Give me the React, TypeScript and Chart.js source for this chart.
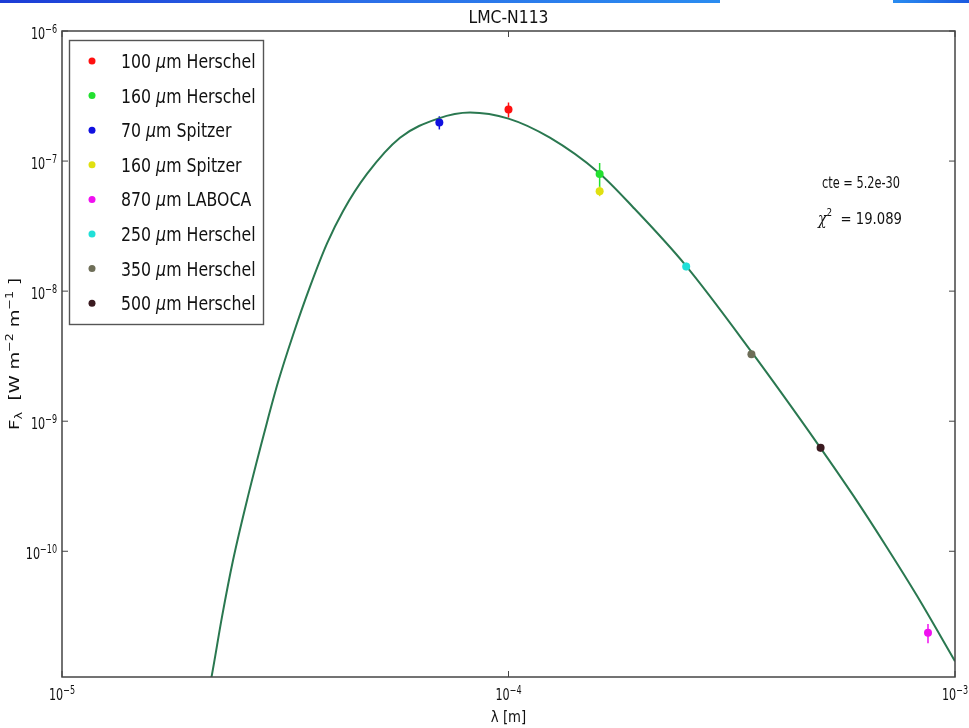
import React, { useEffect, useRef } from 'react';
import { Chart, registerables } from 'chart.js';

Chart.register(...registerables);

// ---------- data ----------
const chartTitle = 'LMC-N113';
const xAxisTitle = 'λ [m]';
const xTickExponents = [-5, -4, -3];
const yTickExponents = [-6, -7, -8, -9, -10];

const seriesLabels = [
  '100 μm Herschel',
  '160 μm Herschel',
  '70 μm Spitzer',
  '160 μm Spitzer',
  '870 μm LABOCA',
  '250 μm Herschel',
  '350 μm Herschel',
  '500 μm Herschel',
];
const seriesWavelength = [1.0e-4, 1.6e-4, 7.0e-5, 1.6e-4, 8.7e-4, 2.5e-4, 3.5e-4, 5.0e-4];
const seriesFlux = [2.49e-7, 7.96e-8, 1.98e-7, 5.87e-8, 2.36e-11, 1.55e-8, 3.27e-9, 6.25e-10];
const seriesError = [3.3e-8, 1.7e-8, 2.3e-8, 5.0e-9, 4.0e-12, 1.0e-9, 2.0e-10, 4.0e-11];
const seriesColors = ['#ff1010', '#22e030', '#1010e0', '#e0e010', '#f010f0', '#20e0d8', '#6e6e58', '#3a1a20'];

const fitLambda = [
  2.09e-5, 2.157e-5, 2.282e-5, 2.415e-5, 2.61e-5, 2.877e-5, 3.046e-5, 3.292e-5, 3.593e-5,
  3.923e-5, 4.259e-5, 4.82e-5, 5.715e-5, 6.953e-5, 8.2e-5, 1.0e-4, 1.238e-4, 1.595e-4,
  1.901e-4, 2.485e-4, 3.492e-4, 4.96e-4, 5.91e-4, 7.04e-4, 8.22e-4, 1.0e-3,
];
const fitFlux = [
  6.29e-12, 1.036e-11, 3.13e-11, 8.49e-11, 2.655e-10, 9.75e-10, 1.99e-9, 4.6e-9, 1.082e-8,
  2.328e-8, 4.12e-8, 7.96e-8, 1.512e-7, 2.121e-7, 2.36e-7, 2.12e-7, 1.512e-7, 8.1e-8,
  4.42e-8, 1.6e-8, 3.457e-9, 6.47e-10, 2.7e-10, 1.07e-10, 4.55e-11, 1.43e-11,
];
const fitConstant = '5.2e-30';
const chiSquare = '19.089';

// ---------- drawing helpers ----------
const FONT = '"DejaVu Sans", sans-serif';
type Seg = { t: string; size: number; dy?: number; italic?: boolean; family?: string };
const segFont = (s: Seg) => `${s.italic ? 'italic ' : ''}${s.size}px ${s.family || FONT}`;
function richWidth(ctx: CanvasRenderingContext2D, segs: Seg[]) {
  let w = 0;
  for (const s of segs) {
    ctx.font = segFont(s);
    w += ctx.measureText(s.t).width;
  }
  return w;
}
function drawRich(
  ctx: CanvasRenderingContext2D,
  segs: Seg[],
  x: number,
  y: number,
  align: 'left' | 'center' | 'right',
  opts: { sx?: number; width?: number; rotate?: number; sy?: number; color?: string } = {}
) {
  const w = richWidth(ctx, segs);
  const sx = opts.width ? opts.width / w : opts.sx ?? 1;
  ctx.save();
  ctx.translate(x, y);
  if (opts.rotate) ctx.rotate(opts.rotate);
  ctx.scale(sx, opts.sy ?? 1);
  ctx.fillStyle = opts.color || '#111';
  ctx.textAlign = 'left';
  ctx.textBaseline = 'alphabetic';
  let cx = align === 'left' ? 0 : align === 'center' ? -w / 2 : -w;
  for (const s of segs) {
    ctx.font = segFont(s);
    ctx.fillText(s.t, cx, s.dy || 0);
    cx += ctx.measureText(s.t).width;
  }
  ctx.restore();
}
const powerLabel = (exp: number): Seg[] => [
  { t: '10', size: 16 },
  { t: '−' + Math.abs(exp), size: 11.5, dy: -6 },
];
const labelSegs = (label: string, size: number): Seg[] => {
  const i = label.indexOf('μ');
  if (i < 0) return [{ t: label, size }];
  return [
    { t: label.slice(0, i), size },
    { t: 'μ', size, italic: true },
    { t: label.slice(i + 1), size },
  ];
};

const decorPlugin = {
  id: 'decor',
  beforeDatasetsDraw(chart: any) {
    const ctx: CanvasRenderingContext2D = chart.ctx;
    const xs = chart.scales.x;
    const ys = chart.scales.y;
    ctx.save();
    ctx.lineWidth = 1.5;
    chart.data.datasets.forEach((ds: any) => {
      if (ds.errorBars == null) return;
      const err = ds.errorBars;
      const p = ds.data[0];
      const px = xs.getPixelForValue(p.x);
      ctx.strokeStyle = ds.backgroundColor;
      ctx.beginPath();
      ctx.moveTo(px, ys.getPixelForValue(p.y + err));
      ctx.lineTo(px, ys.getPixelForValue(Math.max(p.y - err, 1e-20)));
      ctx.stroke();
    });
    ctx.restore();
  },
  afterDatasetsDraw(chart: any) {
    const ctx: CanvasRenderingContext2D = chart.ctx;
    const a = chart.chartArea;
    const xs = chart.scales.x;
    const ys = chart.scales.y;
    ctx.save();

    // frame
    ctx.strokeStyle = '#444';
    ctx.lineWidth = 1.5;
    ctx.strokeRect(a.left, a.top, a.right - a.left, a.bottom - a.top);

    // ticks + labels
    ctx.lineWidth = 1;
    ctx.strokeStyle = '#444';
    xTickExponents.forEach((e) => {
      const px = xs.getPixelForValue(Math.pow(10, e));
      ctx.beginPath();
      ctx.moveTo(px, a.bottom);
      ctx.lineTo(px, a.bottom - 6);
      ctx.moveTo(px, a.top);
      ctx.lineTo(px, a.top + 6);
      ctx.stroke();
      drawRich(ctx, powerLabel(e), px, a.bottom + 23, 'center', { sx: 0.7 });
    });
    yTickExponents.forEach((e) => {
      const py = ys.getPixelForValue(Math.pow(10, e));
      ctx.beginPath();
      ctx.moveTo(a.left, py);
      ctx.lineTo(a.left + 6, py);
      ctx.moveTo(a.right, py);
      ctx.lineTo(a.right - 6, py);
      ctx.stroke();
      drawRich(ctx, powerLabel(e), a.left - 5, py + 8, 'right', { sx: 0.7 });
    });

    // title
    drawRich(ctx, [{ t: chartTitle, size: 18 }], (a.left + a.right) / 2, 23, 'center', { width: 80 });

    // x axis title
    drawRich(ctx, [{ t: xAxisTitle, size: 16 }], (a.left + a.right) / 2, 722, 'center', { sx: 0.83 });

    // y axis title (rotated)
    const ySegs: Seg[] = [
      { t: 'F', size: 18 },
      { t: 'λ', size: 12.6, dy: 4 },
      { t: '  [W m', size: 18 },
      { t: '−2', size: 12.6, dy: -7 },
      { t: ' m', size: 18 },
      { t: '−1', size: 12.6, dy: -7 },
      { t: ' ]', size: 18 },
    ];
    drawRich(ctx, ySegs, 19, (a.top + a.bottom) / 2, 'center', {
      width: 152,
      rotate: -Math.PI / 2,
      sy: 0.83,
    });

    // legend
    const lx = a.left + 7.5;
    const ly = a.top + 9.5;
    ctx.fillStyle = '#fff';
    ctx.fillRect(lx, ly, 194, 284);
    ctx.strokeStyle = '#555';
    ctx.lineWidth = 1.4;
    ctx.strokeRect(lx, ly, 194, 284);
    let row = 0;
    chart.data.datasets.forEach((ds: any) => {
      if (ds.errorBars == null) return;
      const ry = ly + 20.5 + row * 34.6;
      row += 1;
      ctx.fillStyle = ds.backgroundColor;
      ctx.beginPath();
      ctx.arc(lx + 22.5, ry, 3.5, 0, Math.PI * 2);
      ctx.fill();
      drawRich(ctx, labelSegs(ds.label, 19), lx + 51.5, ry + 7, 'left', { sx: 0.83 });
    });

    // annotations
    drawRich(ctx, [{ t: 'cte = ' + fitConstant, size: 15 }], 822, 188, 'left', { width: 78 });
    drawRich(
      ctx,
      [
        { t: 'χ', size: 16, italic: true, family: '"DejaVu Serif", serif' },
        { t: '2', size: 10, dy: -8 },
        { t: '  = ' + chiSquare, size: 15 },
      ],
      818,
      224,
      'left',
      { width: 84 }
    );
    ctx.restore();
  },
};

export default function App() {
  const ref = useRef<HTMLCanvasElement | null>(null);
  useEffect(() => {
    if (!ref.current) return;
    const pointSets = seriesLabels.map((label, i) => ({
      label,
      data: [{ x: seriesWavelength[i], y: seriesFlux[i] }],
      backgroundColor: seriesColors[i],
      borderColor: seriesColors[i],
      pointRadius: 4,
      pointBorderWidth: 0,
      showLine: false,
      errorBars: seriesError[i],
      order: 0,
    }));
    const fitSet = {
      label: 'fit',
      data: fitLambda.map((x, i) => ({ x, y: fitFlux[i] })),
      borderColor: '#2a7850',
      backgroundColor: '#2a7850',
      borderWidth: 2,
      pointRadius: 0,
      showLine: true,
      cubicInterpolationMode: 'monotone',
      order: 1,
    };
    const chart = new Chart(ref.current, {
      type: 'scatter',
      data: { datasets: [fitSet as any, ...(pointSets as any[])] },
      options: {
        animation: false,
        responsive: false,
        devicePixelRatio: 1,
        layout: { padding: { left: 62, right: 14, top: 31, bottom: 51 } },
        plugins: { legend: { display: false }, title: { display: false }, tooltip: { enabled: false } },
        scales: {
          x: { type: 'logarithmic', min: 1e-5, max: 1e-3, display: false },
          y: { type: 'logarithmic', min: 1.08e-11, max: 1e-6, display: false },
        },
      },
      plugins: [decorPlugin],
    });
    return () => chart.destroy();
  }, []);

  return (
    <div style={{ position: 'fixed', left: 0, top: 0, width: 969, height: 728, background: '#fff' }}>
      <div
        style={{
          position: 'absolute',
          left: 0,
          top: 0,
          width: 720,
          height: 3,
          background: 'linear-gradient(90deg, #1c3cd6, #2b6ee8, #2a8cf0)',
        }}
      />
      <div
        style={{
          position: 'absolute',
          left: 893,
          top: 0,
          width: 76,
          height: 3,
          background: 'linear-gradient(90deg, #2a8cf0, #1c5ae0)',
        }}
      />
      <canvas ref={ref} width={969} height={728} style={{ position: 'absolute', left: 0, top: 0 }} />
    </div>
  );
}
